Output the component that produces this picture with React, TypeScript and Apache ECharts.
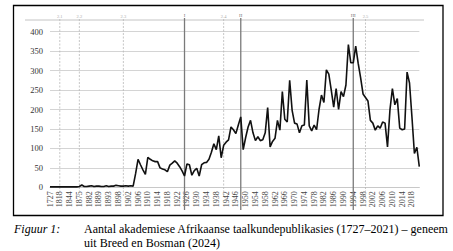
import React, { useEffect, useRef } from "react";
import * as echarts from "echarts";

// Early, sparse publication years (before 1902)
const earlyYears = [
  "1727", "1776", "1795", "1806", "1818", "1823", "1830", "1838",
  "1844", "1850", "1857", "1866", "1875", "1877", "1879", "1880",
  "1882", "1884", "1885", "1887", "1889", "1890", "1891", "1892",
  "1893", "1894", "1895", "1896", "1898", "1899", "1900", "1901",
];
const earlyValues = [
  1, 1, 1, 1, 1, 1, 1, 1,
  1, 1, 1, 1, 2, 6, 2, 2,
  3, 4, 2, 3, 3, 2, 2, 4,
  2, 3, 3, 5, 4, 3, 3, 4,
];

// Yearly counts 1902–2021
const modernStart = 1902;
const modernValues = [
  3, 4, 3, 35, 72, 58, 45, 33, 77, 72, // 1902-1911
  68, 66, 66, 50, 47, 45, 40, 57, 62, 68, // 1912-1921
  62, 53, 42, 29, 60, 58, 31, 43, 49, 29, // 1922-1931
  58, 63, 64, 72, 90, 112, 97, 132, 76, 108, // 1932-1941
  116, 122, 155, 148, 138, 160, 181, 97, 128, 155, // 1942-1951
  172, 140, 120, 130, 120, 122, 140, 205, 104, 118, // 1952-1961
  126, 172, 147, 246, 175, 168, 275, 198, 165, 163, // 1962-1971
  140, 158, 160, 276, 158, 145, 160, 148, 200, 237, // 1972-1981
  218, 302, 291, 250, 206, 254, 200, 246, 233, 263, // 1982-1991
  367, 320, 320, 363, 319, 282, 240, 231, 222, 172, // 1992-2001
  165, 147, 158, 152, 168, 165, 104, 199, 254, 212, // 2002-2011
  228, 152, 148, 150, 296, 268, 180, 87, 103, 53, // 2012-2021
];

const modernYears = modernValues.map((_, i) => String(modernStart + i));
const categories = [...earlyYears, ...modernYears];
const values = [...earlyValues, ...modernValues];

// Period markers
const dashedYears = ["1818", "1875", "1900", "1941", "1999"];
const dashedLabels = ["2.1", "2.2", "2.3", "2.4", "2.5"];
const solidYears = ["1925", "1948", "1994"];
const solidLabels = ["I", "II", "III"];

const yTicks = { min: 0, max: 400, interval: 50 };

const captionLabel = "Figuur 1:";
const captionLine1 = "Aantal akademiese Afrikaanse taalkundepublikasies (1727–2021) – geneem";
const captionLine2 = "uit Breed en Bosman (2024)";

export default function App() {
  const ref = useRef<HTMLDivElement>(null);

  useEffect(() => {
    if (!ref.current) return;
    const chart = echarts.init(ref.current, null, { renderer: "svg" });
    const serif = "Liberation Serif";
    chart.setOption({
      animation: false,
      backgroundColor: "#ffffff",
      textStyle: { fontFamily: serif },
      grid: { left: 50, right: 33.7, top: 31.7, bottom: 63.7, containLabel: false },
      xAxis: {
        type: "category",
        data: categories,
        boundaryGap: false,
        axisLine: { show: true, lineStyle: { color: "#c8c8c8", width: 1 } },
        axisTick: { show: false },
        axisLabel: {
          interval: 3,
          rotate: 90,
          fontSize: 8,
          color: "#444",
          margin: 4,
          fontFamily: serif,
        },
        splitLine: { show: false },
      },
      yAxis: {
        type: "value",
        min: yTicks.min,
        max: yTicks.max,
        interval: yTicks.interval,
        axisLine: { show: false },
        axisTick: { show: false },
        axisLabel: { fontSize: 8.5, color: "#333", margin: 7, fontFamily: serif },
        splitLine: { show: true, lineStyle: { color: "#d4d4d4", width: 1 } },
      },
      series: [
        {
          type: "line",
          data: values,
          showSymbol: false,
          symbol: "none",
          lineStyle: { color: "#111", width: 1.6 },
          z: 5,
        },
      ],
    });

    const graphics: any[] = [];
    // frame
    graphics.push({
      type: "rect",
      shape: { x: 13.5, y: 5.5, width: 429.5, height: 210 },
      style: { fill: "none", stroke: "#000", lineWidth: 1.3 },
      silent: true,
    });
    // top line
    graphics.push({
      type: "line",
      shape: { x1: 25, y1: 20, x2: 424, y2: 20 },
      style: { stroke: "#c4c4c4", lineWidth: 1 },
      silent: true,
    });
    dashedYears.forEach((yr, k) => {
      const x = chart.convertToPixel({ xAxisIndex: 0 }, yr) as number;
      graphics.push({
        type: "line",
        shape: { x1: x, y1: 19, x2: x, y2: 196 },
        style: { stroke: "#b8b8b8", lineWidth: 0.8, lineDash: [2, 1.5] },
        silent: true,
        z: 1,
      });
      graphics.push({
        type: "text",
        x: x,
        y: 16,
        style: {
          text: dashedLabels[k],
          fontSize: 4.5,
          fill: "#aaa",
          align: "center",
          verticalAlign: "middle",
          fontFamily: serif,
        },
        silent: true,
      });
    });
    solidYears.forEach((yr, k) => {
      const x = chart.convertToPixel({ xAxisIndex: 0 }, yr) as number;
      graphics.push({
        type: "line",
        shape: { x1: x, y1: 18, x2: x, y2: 210 },
        style: { stroke: "#7a7a7a", lineWidth: 1.3 },
        silent: true,
        z: 2,
      });
      graphics.push({
        type: "text",
        x: x,
        y: 15.5,
        style: {
          text: solidLabels[k],
          fontSize: 5,
          fill: "#777",
          align: "center",
          verticalAlign: "middle",
          fontFamily: serif,
        },
        silent: true,
      });
    });
    // caption
    graphics.push({
      type: "text",
      x: 14,
      y: 229,
      style: {
        text: captionLabel,
        fontSize: 12,
        fontStyle: "italic",
        fill: "#000",
        verticalAlign: "middle",
        fontFamily: serif,
      },
    });
    graphics.push({
      type: "text",
      x: 84,
      y: 229,
      style: {
        text: captionLine1,
        fontSize: 12,
        fill: "#000",
        verticalAlign: "middle",
        fontFamily: serif,
      },
    });
    graphics.push({
      type: "text",
      x: 84,
      y: 242.5,
      style: {
        text: captionLine2,
        fontSize: 12,
        fill: "#000",
        verticalAlign: "middle",
        fontFamily: serif,
      },
    });
    chart.setOption({ graphic: graphics });

    return () => chart.dispose();
  }, []);

  return (
    <div
      ref={ref}
      style={{ position: "fixed", left: 0, top: 0, width: 453, height: 251 }}
    />
  );
}
